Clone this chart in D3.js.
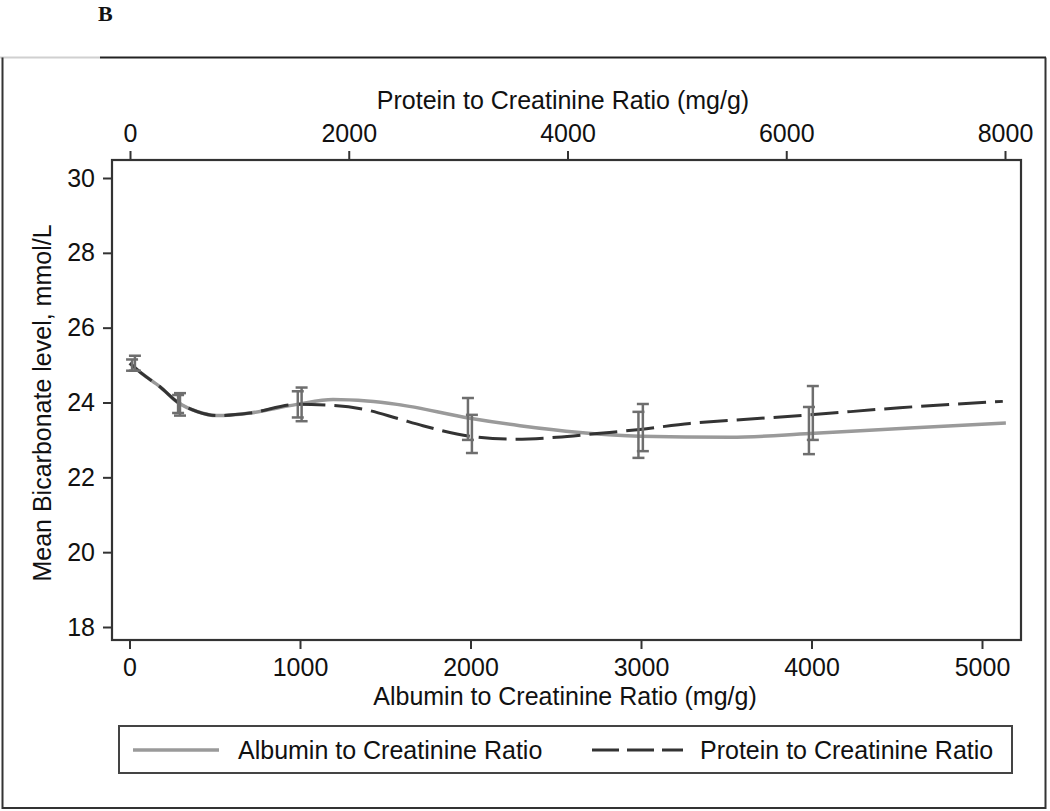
<!DOCTYPE html>
<html>
<head>
<meta charset="utf-8">
<script src="https://cdn.jsdelivr.net/npm/d3@7"></script>
<style>
  html, body { margin: 0; padding: 0; background: #fff; }
  svg { display: block; }
  text { font-family: "Liberation Sans", Arial, Helvetica, sans-serif; fill: #111; }
</style>
</head>
<body>
<svg id="chart" width="1050" height="811"></svg>
<script>
// ---------------- data ----------------
const panelLabel = "B";
const topAxisTitle = "Protein to Creatinine Ratio (mg/g)";
const bottomAxisTitle = "Albumin to Creatinine Ratio (mg/g)";
const yAxisTitle = "Mean Bicarbonate level, mmol/L";
const seriesNames = ["Albumin to Creatinine Ratio", "Protein to Creatinine Ratio"];

const yTicks = [18, 20, 22, 24, 26, 28, 30];
const albuminTicks = [0, 1000, 2000, 3000, 4000, 5000];
const proteinTicks = [0, 2000, 4000, 6000, 8000];

// fitted curves
const albuminCurveX = [0, 79, 179, 284, 396, 513, 707, 982, 1194, 1393, 1569, 1997, 2290, 2642, 2994, 3522, 3991, 4577, 5140];
const albuminCurveY = [25.05, 24.75, 24.42, 24.0, 23.76, 23.65, 23.72, 23.95, 24.08, 24.04, 23.95, 23.58, 23.38, 23.2, 23.1, 23.07, 23.17, 23.32, 23.45];
const proteinCurveX = [0, 119, 274, 439, 612, 795, 1097, 1527, 1856, 2166, 2441, 2678, 3108, 3501, 3903, 4269, 4662, 5119, 5484, 6216, 7038, 7980];
const proteinCurveY = [25.05, 24.75, 24.42, 24.0, 23.76, 23.65, 23.72, 23.95, 23.92, 23.8, 23.58, 23.38, 23.1, 23.02, 23.07, 23.17, 23.28, 23.44, 23.52, 23.67, 23.86, 24.03];

// error bars (category means with 95% CI)
const albuminBarX = [15, 285, 987, 1985, 2985, 3985];
const albuminLow  = [24.85, 23.72, 23.6, 23.0, 22.52, 22.62];
const albuminHigh = [25.15, 24.2, 24.3, 24.12, 23.75, 23.88];
const proteinBarX = [45, 457, 1569, 3126, 4689, 6243];
const proteinLow  = [24.85, 23.65, 23.5, 22.65, 22.7, 23.0];
const proteinHigh = [25.25, 24.25, 24.4, 23.67, 23.96, 24.44];

// ---------------- layout ----------------
const svg = d3.select("#chart");
const plot = { left: 112, right: 1021, top: 160, bottom: 640 };

const xA = d3.scaleLinear().domain([0, 5000]).range([129.5, 982]);
const xP = d3.scaleLinear().domain([0, 8000]).range([130, 1005]);
const y  = d3.scaleLinear().domain([18, 30]).range([627, 178]);

// outer frame
svg.append("line").attr("x1", 0).attr("x2", 100).attr("y1", 57.5).attr("y2", 57.5)
  .attr("stroke", "#d0d0d0").attr("stroke-width", 2);
svg.append("line").attr("x1", 100).attr("x2", 1046).attr("y1", 57.5).attr("y2", 57.5)
  .attr("stroke", "#222").attr("stroke-width", 2);
svg.append("path").attr("d", "M2.5,57.5 V808 H1045.5 V57.5")
  .attr("fill", "none").attr("stroke", "#333").attr("stroke-width", 2);

// panel label
svg.append("text").attr("x", 98).attr("y", 21).text(panelLabel)
  .style("font-family", "'Liberation Serif', 'Times New Roman', serif")
  .style("font-weight", "bold").style("font-size", "22px");

// axes
const fs = "25px";
const fmt = d3.format("d");
const gy = svg.append("g").attr("transform", `translate(${plot.left},0)`)
  .call(d3.axisLeft(y).tickValues(yTicks).tickFormat(fmt).tickSize(9).tickPadding(8).tickSizeOuter(0));
const gb = svg.append("g").attr("transform", `translate(0,${plot.bottom})`)
  .call(d3.axisBottom(xA).tickValues(albuminTicks).tickFormat(fmt).tickSize(9).tickPadding(9).tickSizeOuter(0));
const gt = svg.append("g").attr("transform", `translate(0,${plot.top})`)
  .call(d3.axisTop(xP).tickValues(proteinTicks).tickFormat(fmt).tickSize(9).tickPadding(9).tickSizeOuter(0));
[gy, gb, gt].forEach(g => {
  g.select(".domain").remove();
  g.selectAll(".tick line").attr("stroke", "#333").attr("stroke-width", 2);
  g.selectAll(".tick text").style("font-size", fs).style("font-family", "'Liberation Sans', Arial, sans-serif").attr("fill", "#111");
});

// plot frame
svg.append("rect").attr("x", plot.left).attr("y", plot.top)
  .attr("width", plot.right - plot.left).attr("height", plot.bottom - plot.top)
  .attr("fill", "none").attr("stroke", "#333").attr("stroke-width", 2.2);

// titles
svg.append("text").attr("x", 563).attr("y", 109).attr("text-anchor", "middle")
  .style("font-size", fs).text(topAxisTitle);
svg.append("text").attr("x", 565).attr("y", 705).attr("text-anchor", "middle")
  .style("font-size", fs).text(bottomAxisTitle);
svg.append("text").attr("transform", "translate(51,403) rotate(-90)").attr("text-anchor", "middle")
  .style("font-size", fs).text(yAxisTitle);

// curves
const albuminPts = albuminCurveX.map((v, i) => [xA(v), y(albuminCurveY[i])]);
const proteinPts = proteinCurveX.map((v, i) => [xP(v), y(proteinCurveY[i])]);
const line = d3.line().curve(d3.curveMonotoneX);

svg.append("path").attr("d", line(albuminPts)).attr("fill", "none")
  .attr("stroke", "#9a9a9a").attr("stroke-width", 3.5);
svg.append("path").attr("d", line(proteinPts)).attr("fill", "none")
  .attr("stroke", "#333").attr("stroke-width", 3).attr("stroke-dasharray", "28,9");

// error bars
function drawBars(xs, lows, highs, xs_scale) {
  const g = svg.append("g").attr("stroke", "#6e6e6e").attr("stroke-width", 2.5);
  xs.forEach((v, i) => {
    const cx = xs_scale(v), y1 = y(lows[i]), y2 = y(highs[i]);
    g.append("line").attr("x1", cx).attr("x2", cx).attr("y1", y1).attr("y2", y2);
    g.append("line").attr("x1", cx - 6).attr("x2", cx + 6).attr("y1", y1).attr("y2", y1);
    g.append("line").attr("x1", cx - 6).attr("x2", cx + 6).attr("y1", y2).attr("y2", y2);
  });
}
drawBars(albuminBarX, albuminLow, albuminHigh, xA);
drawBars(proteinBarX, proteinLow, proteinHigh, xP);

// legend
const lg = svg.append("g");
lg.append("rect").attr("x", 119).attr("y", 726).attr("width", 893).attr("height", 47)
  .attr("fill", "none").attr("stroke", "#444").attr("stroke-width", 2);
lg.append("line").attr("x1", 133).attr("x2", 219).attr("y1", 750).attr("y2", 750)
  .attr("stroke", "#9a9a9a").attr("stroke-width", 3.5);
lg.append("text").attr("x", 238).attr("y", 759).style("font-size", fs).text(seriesNames[0]);
lg.append("line").attr("x1", 592).attr("x2", 683).attr("y1", 750).attr("y2", 750)
  .attr("stroke", "#333").attr("stroke-width", 3).attr("stroke-dasharray", "27,8");
lg.append("text").attr("x", 700).attr("y", 759).style("font-size", fs).text(seriesNames[1]);
</script>
</body>
</html>
